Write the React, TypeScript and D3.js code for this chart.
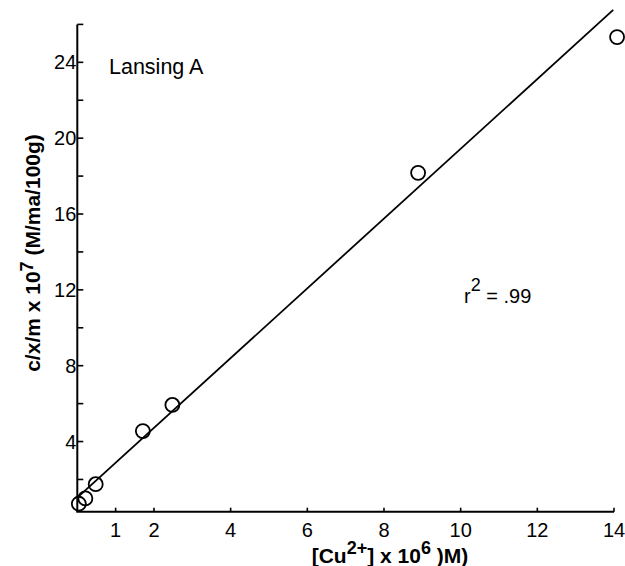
import React from 'react';
import * as d3 from 'd3';

// Data
const xValues = [0.04, 0.21, 0.48, 1.71, 2.48, 8.89, 14.08];
const yValues = [0.72, 1.0, 1.75, 4.55, 5.93, 18.17, 25.33];
const xTicks = [1, 2, 4, 6, 8, 10, 12, 14];
const yTicks = [2, 4, 6, 8, 10, 12, 14, 16, 18, 20, 22, 24, 26];
const yTickLabels = [4, 8, 12, 16, 20, 24];
const fitIntercept = 1.04;
const fitSlope = 1.84;
const fitXRange = [0, 13.98];

const FONT = '"Liberation Sans", Arial, Helvetica, sans-serif';

export default function App() {
  const W = 625, H = 566;
  const x = d3.scaleLinear().domain([0, 14]).range([77.3, 614]);
  const y = d3.scaleLinear().domain([0.3, 26]).range([511.7, 24.4]);

  const fitData = fitXRange.map((v) => [v, fitIntercept + fitSlope * v] as [number, number]);
  const lineGen = d3.line<[number, number]>().x((d) => x(d[0])).y((d) => y(d[1]));

  const x0 = x(0);
  const yBottom = y(0.3);

  return (
    <svg width={W} height={H} style={{ position: 'absolute', left: 0, top: 0, background: '#fff' }} fontFamily={FONT}>
      <rect x={0} y={0} width={W} height={H} fill="#fff" />
      {/* Y axis */}
      <line x1={x0} x2={x0} y1={y(26)} y2={yBottom} stroke="#000" strokeWidth={2} />
      {yTicks.map((t) => (
        <line key={'yt' + t} x1={x0} x2={x0 + 6} y1={y(t)} y2={y(t)} stroke="#000" strokeWidth={1.6} />
      ))}
      {yTickLabels.map((t) => (
        <text key={'yl' + t} x={x0 - 1} y={y(t)} dy="0.35em" textAnchor="end" fontSize={20} fill="#000">
          {t}
        </text>
      ))}
      {/* X axis */}
      <line x1={x0 - 1} x2={x(14)} y1={yBottom} y2={yBottom} stroke="#000" strokeWidth={2} />
      {xTicks.map((t) => (
        <line key={'xt' + t} x1={x(t)} x2={x(t)} y1={yBottom} y2={yBottom - 4} stroke="#000" strokeWidth={1.6} />
      ))}
      {xTicks.map((t) => (
        <text key={'xl' + t} x={x(t)} y={537} textAnchor="middle" fontSize={20} fill="#000">
          {t}
        </text>
      ))}
      {/* Fit line */}
      <path d={lineGen(fitData) || ''} fill="none" stroke="#000" strokeWidth={1.8} />
      {/* Points */}
      {xValues.map((v, i) => (
        <circle key={'p' + i} cx={x(v)} cy={y(yValues[i])} r={7} fill="none" stroke="#000" strokeWidth={1.8} />
      ))}
      {/* Annotations */}
      <text x={109} y={73.5} fontSize={21.5} fill="#000">Lansing A</text>
      <text x={464} y={303} fontSize={20} fill="#000">
        r<tspan fontSize={18} dy={-12}>2</tspan>
        <tspan dy={12}> = .99</tspan>
      </text>
      {/* Axis titles */}
      <text x={390} y={563} textAnchor="middle" fontSize={21} fontWeight="bold" fill="#000">
        [Cu<tspan fontSize={18} dy={-9}>2+</tspan>
        <tspan dy={9}>] x 10</tspan>
        <tspan fontSize={18} dy={-9}>6</tspan>
        <tspan dy={9}> )M)</tspan>
      </text>
      <text transform="translate(39.5,253) rotate(-90)" textAnchor="middle" fontSize={21} fontWeight="bold" fill="#000">
        c/x/m x 10<tspan fontSize={18} dy={-7}>7</tspan>
        <tspan dy={7}> (M/ma/100g)</tspan>
      </text>
    </svg>
  );
}
